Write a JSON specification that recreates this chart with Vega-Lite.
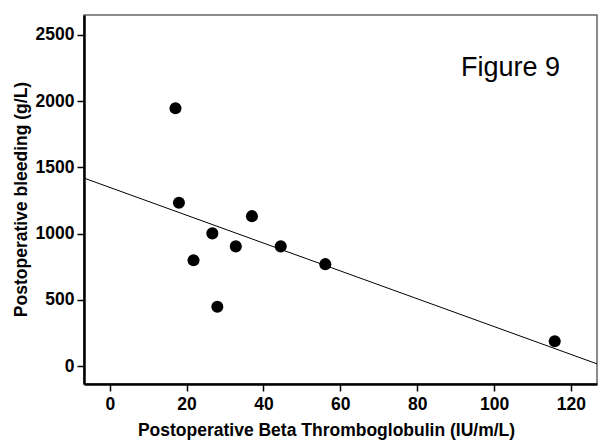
{
  "$schema": "https://vega.github.io/schema/vega-lite/v6.json",
  "width": 513,
  "height": 369,
  "autosize": "none",
  "padding": {"left": 84, "top": 15, "right": 14, "bottom": 59},
  "background": "white",
  "config": {
    "view": {"stroke": "#666666", "strokeWidth": 1.5},
    "axis": {
      "grid": false,
      "domainColor": "black",
      "domainWidth": 2.5,
      "tickColor": "black",
      "tickWidth": 1.5,
      "tickSize": 7,
      "labelFont": "Liberation Sans",
      "labelFontWeight": "bold",
      "labelFontSize": 17.5,
      "labelColor": "black",
      "format": "d",
      "titleFont": "Liberation Sans",
      "titleFontWeight": "bold",
      "titleFontSize": 17.5,
      "titleColor": "black"
    }
  },
  "datasets": {
    "points": [
      {"beta": 17.1, "bleeding": 1945},
      {"beta": 18.0, "bleeding": 1233},
      {"beta": 37.0, "bleeding": 1132},
      {"beta": 26.7, "bleeding": 1002},
      {"beta": 32.8, "bleeding": 904},
      {"beta": 44.5, "bleeding": 904},
      {"beta": 21.8, "bleeding": 800},
      {"beta": 56.1, "bleeding": 770},
      {"beta": 28.0, "bleeding": 448},
      {"beta": 115.8, "bleeding": 189}
    ],
    "fit": [
      {"beta": -6.7, "bleeding": 1419},
      {"beta": 126.8, "bleeding": 18}
    ]
  },
  "layer": [
    {
      "data": {"name": "fit"},
      "mark": {"type": "line", "color": "black", "strokeWidth": 1, "clip": true},
      "encoding": {
        "x": {
          "field": "beta",
          "type": "quantitative",
          "scale": {"domain": [-6.7, 126.8], "nice": false, "zero": false},
          "axis": {
            "values": [0, 20, 40, 60, 80, 100, 120],
            "format": "d",
            "labelPadding": 4,
            "title": "Postoperative Beta Thromboglobulin (IU/m/L)",
            "titleX": 242,
            "titleY": 51,
            "titleAlign": "center",
            "titleBaseline": "alphabetic"
          }
        },
        "y": {
          "field": "bleeding",
          "type": "quantitative",
          "scale": {"domain": [-134, 2649], "nice": false, "zero": false},
          "axis": {
            "values": [0, 500, 1000, 1500, 2000, 2500],
            "format": "d",
            "labelPadding": 3,
            "title": "Postoperative bleeding (g/L)",
            "titleAngle": -90,
            "titleX": -58,
            "titleY": 184,
            "titleAlign": "center",
            "titleBaseline": "alphabetic"
          }
        }
      }
    },
    {
      "data": {"name": "points"},
      "mark": {"type": "circle", "color": "black", "opacity": 1, "size": 145},
      "encoding": {
        "x": {"field": "beta", "type": "quantitative"},
        "y": {"field": "bleeding", "type": "quantitative"}
      }
    },
    {
      "data": {"values": [{"label": "Figure 9"}]},
      "mark": {"type": "text", "font": "Liberation Sans", "fontSize": 27, "color": "black", "align": "left", "baseline": "alphabetic"},
      "encoding": {
        "x": {"datum": 91.4, "type": "quantitative"},
        "y": {"datum": 2187, "type": "quantitative"},
        "text": {"field": "label"}
      }
    }
  ]
}
